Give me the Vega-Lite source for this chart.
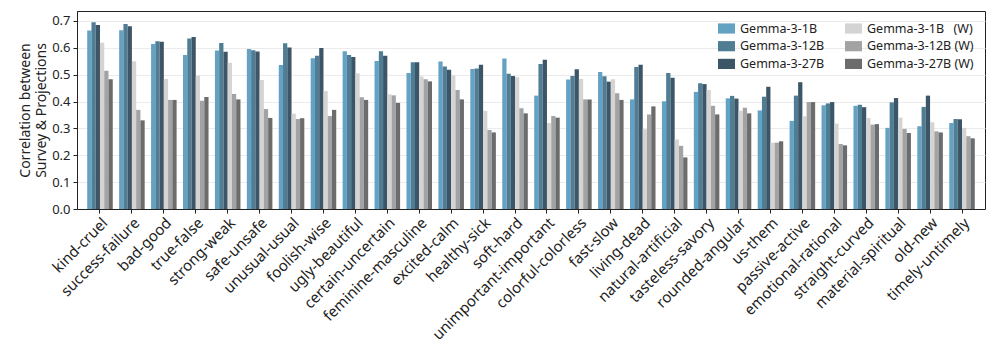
{
"$schema":"https://vega.github.io/schema/vega-lite/v6.json",
"width":908,"height":198,
"autosize":{"type":"none"},
"padding":{"left":77,"top":11,"right":11,"bottom":152},
"config":{"font":"Noto Sans","view":{"stroke":"#222","strokeWidth":1},
"axis":{"domainColor":"#222","tickColor":"#222","labelColor":"#222","titleColor":"#222","tickSize":4,"labelFontSize":13,"titleFontSize":14,"titleFontWeight":"normal"}},
"data":{"values":[
{"pair":"kind-cruel","model":"Gemma-3-1B","r":0.664},{"pair":"kind-cruel","model":"Gemma-3-12B","r":0.695},{"pair":"kind-cruel","model":"Gemma-3-27B","r":0.685},{"pair":"kind-cruel","model":"Gemma-3-1B (W)","r":0.619},{"pair":"kind-cruel","model":"Gemma-3-12B (W)","r":0.515},{"pair":"kind-cruel","model":"Gemma-3-27B (W)","r":0.483},
{"pair":"success-failure","model":"Gemma-3-1B","r":0.665},{"pair":"success-failure","model":"Gemma-3-12B","r":0.689},{"pair":"success-failure","model":"Gemma-3-27B","r":0.680},{"pair":"success-failure","model":"Gemma-3-1B (W)","r":0.550},{"pair":"success-failure","model":"Gemma-3-12B (W)","r":0.369},{"pair":"success-failure","model":"Gemma-3-27B (W)","r":0.330},
{"pair":"bad-good","model":"Gemma-3-1B","r":0.614},{"pair":"bad-good","model":"Gemma-3-12B","r":0.624},{"pair":"bad-good","model":"Gemma-3-27B","r":0.623},{"pair":"bad-good","model":"Gemma-3-1B (W)","r":0.484},{"pair":"bad-good","model":"Gemma-3-12B (W)","r":0.406},{"pair":"bad-good","model":"Gemma-3-27B (W)","r":0.406},
{"pair":"true-false","model":"Gemma-3-1B","r":0.573},{"pair":"true-false","model":"Gemma-3-12B","r":0.635},{"pair":"true-false","model":"Gemma-3-27B","r":0.640},{"pair":"true-false","model":"Gemma-3-1B (W)","r":0.496},{"pair":"true-false","model":"Gemma-3-12B (W)","r":0.403},{"pair":"true-false","model":"Gemma-3-27B (W)","r":0.417},
{"pair":"strong-weak","model":"Gemma-3-1B","r":0.590},{"pair":"strong-weak","model":"Gemma-3-12B","r":0.618},{"pair":"strong-weak","model":"Gemma-3-27B","r":0.585},{"pair":"strong-weak","model":"Gemma-3-1B (W)","r":0.544},{"pair":"strong-weak","model":"Gemma-3-12B (W)","r":0.428},{"pair":"strong-weak","model":"Gemma-3-27B (W)","r":0.408},
{"pair":"safe-unsafe","model":"Gemma-3-1B","r":0.596},{"pair":"safe-unsafe","model":"Gemma-3-12B","r":0.591},{"pair":"safe-unsafe","model":"Gemma-3-27B","r":0.586},{"pair":"safe-unsafe","model":"Gemma-3-1B (W)","r":0.480},{"pair":"safe-unsafe","model":"Gemma-3-12B (W)","r":0.372},{"pair":"safe-unsafe","model":"Gemma-3-27B (W)","r":0.339},
{"pair":"unusual-usual","model":"Gemma-3-1B","r":0.536},{"pair":"unusual-usual","model":"Gemma-3-12B","r":0.617},{"pair":"unusual-usual","model":"Gemma-3-27B","r":0.601},{"pair":"unusual-usual","model":"Gemma-3-1B (W)","r":0.355},{"pair":"unusual-usual","model":"Gemma-3-12B (W)","r":0.335},{"pair":"unusual-usual","model":"Gemma-3-27B (W)","r":0.338},
{"pair":"foolish-wise","model":"Gemma-3-1B","r":0.561},{"pair":"foolish-wise","model":"Gemma-3-12B","r":0.570},{"pair":"foolish-wise","model":"Gemma-3-27B","r":0.599},{"pair":"foolish-wise","model":"Gemma-3-1B (W)","r":0.439},{"pair":"foolish-wise","model":"Gemma-3-12B (W)","r":0.346},{"pair":"foolish-wise","model":"Gemma-3-27B (W)","r":0.369},
{"pair":"ugly-beautiful","model":"Gemma-3-1B","r":0.587},{"pair":"ugly-beautiful","model":"Gemma-3-12B","r":0.573},{"pair":"ugly-beautiful","model":"Gemma-3-27B","r":0.566},{"pair":"ugly-beautiful","model":"Gemma-3-1B (W)","r":0.505},{"pair":"ugly-beautiful","model":"Gemma-3-12B (W)","r":0.416},{"pair":"ugly-beautiful","model":"Gemma-3-27B (W)","r":0.406},
{"pair":"certain-uncertain","model":"Gemma-3-1B","r":0.551},{"pair":"certain-uncertain","model":"Gemma-3-12B","r":0.587},{"pair":"certain-uncertain","model":"Gemma-3-27B","r":0.570},{"pair":"certain-uncertain","model":"Gemma-3-1B (W)","r":0.427},{"pair":"certain-uncertain","model":"Gemma-3-12B (W)","r":0.423},{"pair":"certain-uncertain","model":"Gemma-3-27B (W)","r":0.395},
{"pair":"feminine-masculine","model":"Gemma-3-1B","r":0.506},{"pair":"feminine-masculine","model":"Gemma-3-12B","r":0.546},{"pair":"feminine-masculine","model":"Gemma-3-27B","r":0.546},{"pair":"feminine-masculine","model":"Gemma-3-1B (W)","r":0.493},{"pair":"feminine-masculine","model":"Gemma-3-12B (W)","r":0.483},{"pair":"feminine-masculine","model":"Gemma-3-27B (W)","r":0.475},
{"pair":"excited-calm","model":"Gemma-3-1B","r":0.549},{"pair":"excited-calm","model":"Gemma-3-12B","r":0.530},{"pair":"excited-calm","model":"Gemma-3-27B","r":0.518},{"pair":"excited-calm","model":"Gemma-3-1B (W)","r":0.498},{"pair":"excited-calm","model":"Gemma-3-12B (W)","r":0.443},{"pair":"excited-calm","model":"Gemma-3-27B (W)","r":0.408},
{"pair":"healthy-sick","model":"Gemma-3-1B","r":0.521},{"pair":"healthy-sick","model":"Gemma-3-12B","r":0.523},{"pair":"healthy-sick","model":"Gemma-3-27B","r":0.537},{"pair":"healthy-sick","model":"Gemma-3-1B (W)","r":0.365},{"pair":"healthy-sick","model":"Gemma-3-12B (W)","r":0.294},{"pair":"healthy-sick","model":"Gemma-3-27B (W)","r":0.285},
{"pair":"soft-hard","model":"Gemma-3-1B","r":0.560},{"pair":"soft-hard","model":"Gemma-3-12B","r":0.503},{"pair":"soft-hard","model":"Gemma-3-27B","r":0.495},{"pair":"soft-hard","model":"Gemma-3-1B (W)","r":0.490},{"pair":"soft-hard","model":"Gemma-3-12B (W)","r":0.375},{"pair":"soft-hard","model":"Gemma-3-27B (W)","r":0.356},
{"pair":"unimportant-important","model":"Gemma-3-1B","r":0.422},{"pair":"unimportant-important","model":"Gemma-3-12B","r":0.540},{"pair":"unimportant-important","model":"Gemma-3-27B","r":0.556},{"pair":"unimportant-important","model":"Gemma-3-1B (W)","r":0.320},{"pair":"unimportant-important","model":"Gemma-3-12B (W)","r":0.346},{"pair":"unimportant-important","model":"Gemma-3-27B (W)","r":0.340},
{"pair":"colorful-colorless","model":"Gemma-3-1B","r":0.482},{"pair":"colorful-colorless","model":"Gemma-3-12B","r":0.495},{"pair":"colorful-colorless","model":"Gemma-3-27B","r":0.520},{"pair":"colorful-colorless","model":"Gemma-3-1B (W)","r":0.484},{"pair":"colorful-colorless","model":"Gemma-3-12B (W)","r":0.408},{"pair":"colorful-colorless","model":"Gemma-3-27B (W)","r":0.408},
{"pair":"fast-slow","model":"Gemma-3-1B","r":0.510},{"pair":"fast-slow","model":"Gemma-3-12B","r":0.494},{"pair":"fast-slow","model":"Gemma-3-27B","r":0.474},{"pair":"fast-slow","model":"Gemma-3-1B (W)","r":0.483},{"pair":"fast-slow","model":"Gemma-3-12B (W)","r":0.431},{"pair":"fast-slow","model":"Gemma-3-27B (W)","r":0.406},
{"pair":"living-dead","model":"Gemma-3-1B","r":0.408},{"pair":"living-dead","model":"Gemma-3-12B","r":0.529},{"pair":"living-dead","model":"Gemma-3-27B","r":0.537},{"pair":"living-dead","model":"Gemma-3-1B (W)","r":0.297},{"pair":"living-dead","model":"Gemma-3-12B (W)","r":0.352},{"pair":"living-dead","model":"Gemma-3-27B (W)","r":0.382},
{"pair":"natural-artificial","model":"Gemma-3-1B","r":0.401},{"pair":"natural-artificial","model":"Gemma-3-12B","r":0.506},{"pair":"natural-artificial","model":"Gemma-3-27B","r":0.489},{"pair":"natural-artificial","model":"Gemma-3-1B (W)","r":0.259},{"pair":"natural-artificial","model":"Gemma-3-12B (W)","r":0.235},{"pair":"natural-artificial","model":"Gemma-3-27B (W)","r":0.192},
{"pair":"tasteless-savory","model":"Gemma-3-1B","r":0.436},{"pair":"tasteless-savory","model":"Gemma-3-12B","r":0.468},{"pair":"tasteless-savory","model":"Gemma-3-27B","r":0.465},{"pair":"tasteless-savory","model":"Gemma-3-1B (W)","r":0.443},{"pair":"tasteless-savory","model":"Gemma-3-12B (W)","r":0.384},{"pair":"tasteless-savory","model":"Gemma-3-27B (W)","r":0.352},
{"pair":"rounded-angular","model":"Gemma-3-1B","r":0.412},{"pair":"rounded-angular","model":"Gemma-3-12B","r":0.421},{"pair":"rounded-angular","model":"Gemma-3-27B","r":0.411},{"pair":"rounded-angular","model":"Gemma-3-1B (W)","r":0.366},{"pair":"rounded-angular","model":"Gemma-3-12B (W)","r":0.377},{"pair":"rounded-angular","model":"Gemma-3-27B (W)","r":0.356},
{"pair":"us-them","model":"Gemma-3-1B","r":0.367},{"pair":"us-them","model":"Gemma-3-12B","r":0.418},{"pair":"us-them","model":"Gemma-3-27B","r":0.455},{"pair":"us-them","model":"Gemma-3-1B (W)","r":0.247},{"pair":"us-them","model":"Gemma-3-12B (W)","r":0.247},{"pair":"us-them","model":"Gemma-3-27B (W)","r":0.252},
{"pair":"passive-active","model":"Gemma-3-1B","r":0.328},{"pair":"passive-active","model":"Gemma-3-12B","r":0.422},{"pair":"passive-active","model":"Gemma-3-27B","r":0.472},{"pair":"passive-active","model":"Gemma-3-1B (W)","r":0.345},{"pair":"passive-active","model":"Gemma-3-12B (W)","r":0.398},{"pair":"passive-active","model":"Gemma-3-27B (W)","r":0.398},
{"pair":"emotional-rational","model":"Gemma-3-1B","r":0.386},{"pair":"emotional-rational","model":"Gemma-3-12B","r":0.393},{"pair":"emotional-rational","model":"Gemma-3-27B","r":0.398},{"pair":"emotional-rational","model":"Gemma-3-1B (W)","r":0.318},{"pair":"emotional-rational","model":"Gemma-3-12B (W)","r":0.242},{"pair":"emotional-rational","model":"Gemma-3-27B (W)","r":0.237},
{"pair":"straight-curved","model":"Gemma-3-1B","r":0.384},{"pair":"straight-curved","model":"Gemma-3-12B","r":0.388},{"pair":"straight-curved","model":"Gemma-3-27B","r":0.379},{"pair":"straight-curved","model":"Gemma-3-1B (W)","r":0.339},{"pair":"straight-curved","model":"Gemma-3-12B (W)","r":0.314},{"pair":"straight-curved","model":"Gemma-3-27B (W)","r":0.316},
{"pair":"material-spiritual","model":"Gemma-3-1B","r":0.302},{"pair":"material-spiritual","model":"Gemma-3-12B","r":0.397},{"pair":"material-spiritual","model":"Gemma-3-27B","r":0.413},{"pair":"material-spiritual","model":"Gemma-3-1B (W)","r":0.340},{"pair":"material-spiritual","model":"Gemma-3-12B (W)","r":0.298},{"pair":"material-spiritual","model":"Gemma-3-27B (W)","r":0.283},
{"pair":"old-new","model":"Gemma-3-1B","r":0.308},{"pair":"old-new","model":"Gemma-3-12B","r":0.380},{"pair":"old-new","model":"Gemma-3-27B","r":0.422},{"pair":"old-new","model":"Gemma-3-1B (W)","r":0.323},{"pair":"old-new","model":"Gemma-3-12B (W)","r":0.289},{"pair":"old-new","model":"Gemma-3-27B (W)","r":0.285},
{"pair":"timely-untimely","model":"Gemma-3-1B","r":0.320},{"pair":"timely-untimely","model":"Gemma-3-12B","r":0.335},{"pair":"timely-untimely","model":"Gemma-3-27B","r":0.334},{"pair":"timely-untimely","model":"Gemma-3-1B (W)","r":0.302},{"pair":"timely-untimely","model":"Gemma-3-12B (W)","r":0.271},{"pair":"timely-untimely","model":"Gemma-3-27B (W)","r":0.263}
]},
"mark":{"type":"bar"},
"encoding":{
"x":{"field":"pair","type":"nominal","sort":null,"scale":{"paddingInner":0.2,"paddingOuter":0.32},
 "axis":{"title":null,"labelAngle":-45,"labelPadding":2,"labelFontSize":15,"grid":false}},
"xOffset":{"field":"model","type":"nominal","sort":["Gemma-3-1B","Gemma-3-12B","Gemma-3-27B","Gemma-3-1B (W)","Gemma-3-12B (W)","Gemma-3-27B (W)"]},
"y":{"field":"r","type":"quantitative","scale":{"domain":[0,0.737],"nice":false},
 "axis":{"title":["Correlation between","Survey & Projections"],"titleLineHeight":16.5,"titlePadding":3,"values":[0,0.1,0.2,0.3,0.4,0.5,0.6,0.7],"format":".1f","labelPadding":3,"labelFontSize":13,"grid":true,"gridColor":"#ebebeb","gridWidth":1}},
"color":{"field":"model","type":"nominal",
 "scale":{"domain":["Gemma-3-1B","Gemma-3-12B","Gemma-3-27B","Gemma-3-1B (W)","Gemma-3-12B (W)","Gemma-3-27B (W)"],
  "range":["#64a2c3","#4f7d94","#3c5667","#d4d4d4","#a3a3a3","#6c6c6c"]},
 "legend":{"title":null,"orient":"none","legendX":641,"legendY":9,"columns":2,"columnPadding":20,"rowPadding":2.7,"padding":0,"gridAlign":"each",
  "symbolType":"M-1,-0.6H1V0.6H-1Z","symbolSize":289,"symbolStrokeWidth":0,"symbolOpacity":1,"labelFontSize":12.5,"labelOffset":5,"labelColor":"#222",
  "labelExpr":"replace(datum.label, '1B (W)', '1B\u2002 (W)')"}}
}
}
